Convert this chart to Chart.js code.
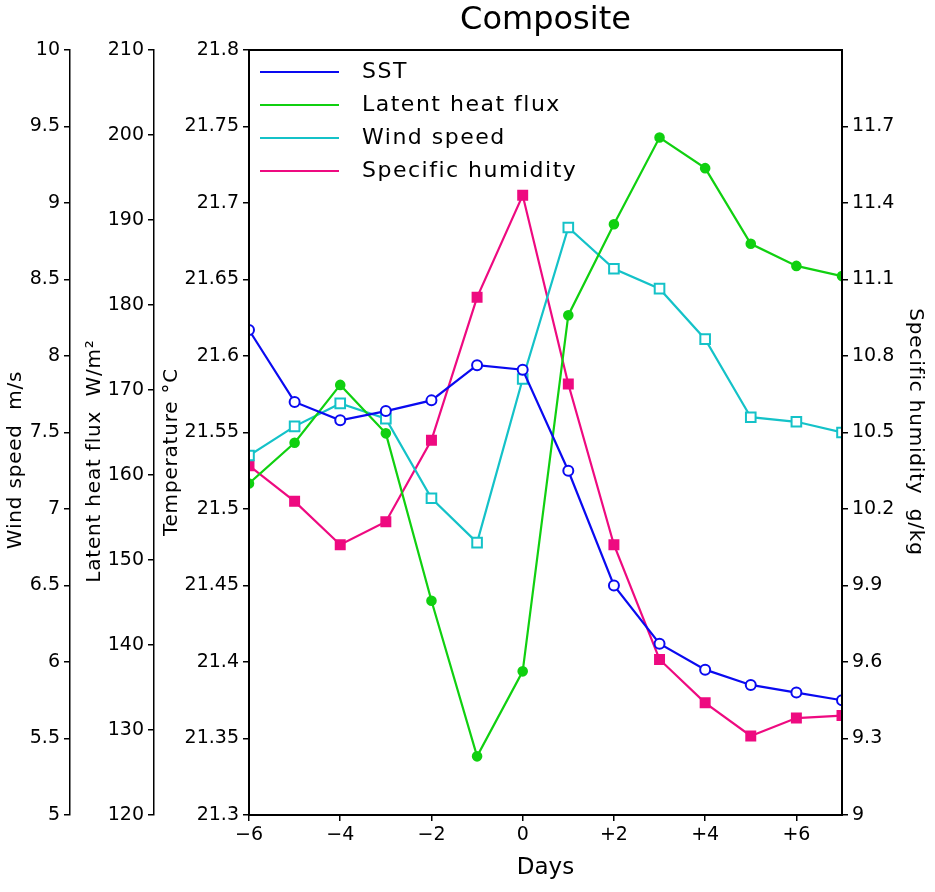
<!DOCTYPE html>
<html>
<head>
<meta charset="utf-8">
<script src="https://cdn.jsdelivr.net/npm/chart.js@4.4.1/dist/chart.umd.min.js"></script>
<style>
  html, body { margin: 0; padding: 0; background: #fff; }
  #c { display: block; }
</style>
</head>
<body>
<canvas id="c" width="935" height="892"></canvas>
<script>
// composite values, one entry per day
const days = [-6, -5, -4, -3, -2, -1, 0, 1, 2, 3, 4, 5, 6, 7];
const sst = [21.617, 21.570, 21.558, 21.564, 21.571, 21.594, 21.591, 21.525, 21.450, 21.412, 21.395, 21.385, 21.380, 21.375];
const latentHeat = [159.0, 163.8, 170.6, 164.9, 145.2, 126.9, 136.9, 178.8, 189.5, 199.7, 196.1, 187.2, 184.6, 183.4];
const windSpeed = [7.35, 7.54, 7.69, 7.59, 7.07, 6.78, 7.85, 8.84, 8.57, 8.44, 8.11, 7.60, 7.57, 7.50];
const humidity = [10.37, 10.23, 10.06, 10.15, 10.47, 11.03, 11.43, 10.69, 10.06, 9.61, 9.44, 9.31, 9.38, 9.39];

const seriesNames = ["SST", "Latent heat flux", "Wind speed", "Specific humidity"];

const FONT = "'DejaVu Sans', sans-serif";
const tickFont = { family: FONT, size: 19 };

const pts = (vals) => days.map((d, i) => ({ x: d, y: vals[i] }));
const fmt = (v) => String(parseFloat(Number(v).toFixed(2)));
const fmtDay = (v) => (v > 0 ? "+" + v : v < 0 ? "\u2212" + (-v) : "0");

// rotated y-axis titles (their spacing doesn't follow Chart.js title placement)
const axisTitles = [
  { text: "Wind speed  m/s", x: 16, y: 460, rot: -Math.PI / 2 },
  { text: "Latent heat flux  W/m\u00b2", x: 95, y: 461, rot: -Math.PI / 2 },
  { text: "Temperature \u00b0C", x: 172, y: 452, rot: -Math.PI / 2 },
  { text: "Specific humidity  g/kg", x: 915, y: 432, rot: Math.PI / 2 },
];

const titlePlugin = {
  id: "sideTitles",
  afterDraw(chart) {
    const ctx = chart.ctx;
    ctx.save();
    ctx.font = "20px " + FONT;
    ctx.letterSpacing = "0.8px";
    ctx.fillStyle = "#000";
    ctx.textAlign = "center";
    ctx.textBaseline = "middle";
    axisTitles.forEach((t) => {
      ctx.save();
      ctx.translate(t.x, t.y);
      ctx.rotate(t.rot);
      ctx.fillText(t.text, 0, 0);
      ctx.restore();
    });
    ctx.restore();
  },
};

// legend sits inside the plot, top left, with long line samples
const legendPlugin = {
  id: "insideLegend",
  afterDatasetsDraw(chart) {
    const { ctx, chartArea } = chart;
    ctx.save();
    // frame round the plot
    ctx.strokeStyle = "#000";
    ctx.lineWidth = 2;
    ctx.strokeRect(chartArea.left, chartArea.top, chartArea.right - chartArea.left, chartArea.bottom - chartArea.top);

    ctx.font = "22px " + FONT;
    ctx.letterSpacing = "1.5px";
    ctx.textBaseline = "middle";
    ctx.fillStyle = "#000";
    chart.data.datasets.forEach((ds, i) => {
      const y = chartArea.top + 22 + i * 33;
      ctx.strokeStyle = ds.borderColor;
      ctx.lineWidth = 2.2;
      ctx.beginPath();
      ctx.moveTo(chartArea.left + 11, y);
      ctx.lineTo(chartArea.left + 90, y);
      ctx.stroke();
      ctx.fillText(ds.label, chartArea.left + 113, y);
    });
    ctx.restore();
  },
};

function sideAxis(position, weight, min, max, step, width) {
  return {
    type: "linear",
    position: position,
    weight: weight,
    min: min,
    max: max,
    ticks: { stepSize: step, font: tickFont, color: "#000", padding: 4, callback: fmt },
    grid: { drawOnChartArea: false, drawTicks: true, tickLength: 6, color: "#000", lineWidth: 1.5 },
    border: { display: true, color: "#000", width: 1.5 },
    afterFit: (s) => { s.width = width; },
  };
}

const yH = sideAxis("right", 1, 9, 12, 0.3, 93);
yH.afterBuildTicks = (s) => { s.ticks = s.ticks.filter((t) => t.value < 11.95); };

new Chart(document.getElementById("c"), {
  type: "line",
  data: {
    datasets: [
      {
        label: seriesNames[0],
        data: pts(sst),
        yAxisID: "yT",
        borderColor: "#0a0af0",
        borderWidth: 2.2,
        pointStyle: "circle",
        pointRadius: 5,
        pointBorderWidth: 2,
        pointBackgroundColor: "#fff",
        pointBorderColor: "#0a0af0",
      },
      {
        label: seriesNames[1],
        data: pts(latentHeat),
        yAxisID: "yL",
        borderColor: "#10d010",
        borderWidth: 2.2,
        pointStyle: "circle",
        pointRadius: 4.2,
        pointBackgroundColor: "#10d010",
        pointBorderColor: "#10d010",
      },
      {
        label: seriesNames[2],
        data: pts(windSpeed),
        yAxisID: "yW",
        borderColor: "#14c2c8",
        borderWidth: 2.2,
        pointStyle: "rect",
        pointRadius: 6.8,
        pointBorderWidth: 2,
        pointBackgroundColor: "#fff",
        pointBorderColor: "#14c2c8",
      },
      {
        label: seriesNames[3],
        data: pts(humidity),
        yAxisID: "yH",
        borderColor: "#ee0a80",
        borderWidth: 2.2,
        pointStyle: "rect",
        pointRadius: 6.2,
        pointBackgroundColor: "#ee0a80",
        pointBorderColor: "#ee0a80",
      },
    ],
  },
  options: {
    responsive: false,
    animation: false,
    devicePixelRatio: 1,
    layout: { padding: 0 },
    elements: { line: { tension: 0 } },
    plugins: {
      legend: { display: false },
      tooltip: { enabled: false },
      title: {
        display: true,
        text: "Composite",
        fullSize: false,
        color: "#000",
        font: { family: FONT, size: 32, weight: "normal" },
        padding: { top: 1, bottom: 10.6 },
      },
    },
    scales: {
      x: {
        type: "linear",
        position: "bottom",
        min: -6,
        max: 7,
        ticks: { stepSize: 2, includeBounds: false, font: tickFont, color: "#000", padding: 3, callback: fmtDay },
        grid: { drawOnChartArea: false, drawTicks: true, tickLength: 6, color: "#000", lineWidth: 1.5 },
        border: { display: true, color: "#000", width: 2 },
        title: { display: true, text: "Days", color: "#000", font: { family: FONT, size: 23 }, padding: { top: 0, bottom: 10 } },
        afterFit: (s) => { s.height = 77; },
      },
      yW: sideAxis("left", 3, 5, 10, 0.5, 70),
      yL: sideAxis("left", 2, 120, 210, 10, 84),
      yT: sideAxis("left", 1, 21.3, 21.8, 0.05, 95),
      yH: yH,
    },
  },
  plugins: [legendPlugin, titlePlugin],
});
</script>
</body>
</html>
